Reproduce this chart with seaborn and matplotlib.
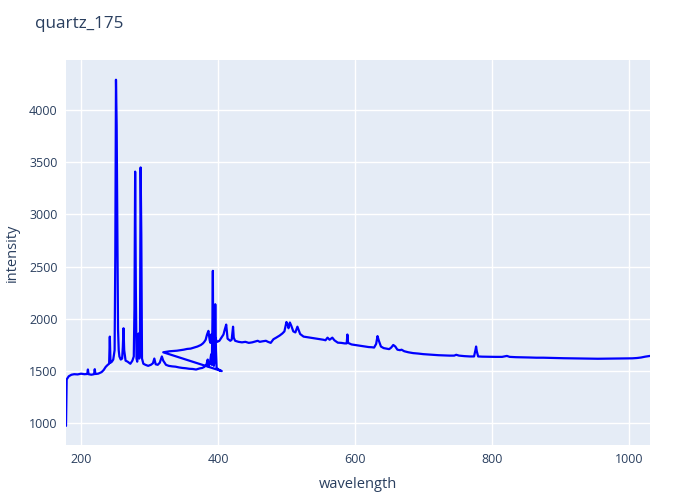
import pandas as pd
import matplotlib
matplotlib.use("Agg")
import matplotlib.pyplot as plt
import seaborn as sns

# spectrum, in drawing order (first channel, then second channel)
wl_first = [178, 179, 182, 186, 190, 195, 200, 205, 209, 210, 211, 215, 219, 220, 221, 225,
            230, 233, 236, 239, 241, 242, 243, 245, 247, 249, 250, 251, 252, 253, 254, 255,
            256, 258, 260, 261, 262, 263, 265, 268, 272, 275, 277, 278, 279, 280, 281, 282,
            283, 284, 285, 286, 287, 288, 289, 291, 294, 298, 302, 305, 307, 309, 312, 315,
            318, 320, 324, 328, 333, 338, 343, 348, 353, 358, 363, 368, 373, 377, 380, 383,
            385, 386, 388, 390, 391, 392, 392.5, 393, 394, 395, 396, 397, 398, 400, 403, 405.5]
int_first = [975, 1420, 1450, 1465, 1470, 1468, 1475, 1470, 1472, 1515, 1470, 1465, 1470, 1518, 1472, 1475,
             1490, 1510, 1540, 1560, 1570, 1830, 1580, 1590, 1610, 1700, 2600, 4290, 3850, 2830, 1900, 1700,
             1640, 1610, 1620, 1730, 1910, 1700, 1600, 1590, 1570, 1600, 1640, 2100, 3410, 2300, 1620, 1590,
             1700, 1860, 1620, 1700, 3450, 2800, 1620, 1570, 1560, 1550, 1560, 1575, 1620, 1565, 1560, 1580,
             1640, 1600, 1560, 1550, 1545, 1542, 1535, 1530, 1527, 1522, 1520, 1515, 1525, 1530, 1540, 1560,
             1610, 1545, 1570, 1660, 1560, 2000, 2460, 1700, 1550, 1600, 2140, 1700, 1530, 1520, 1505, 1500]

wl_second = [320, 325, 330, 335, 340, 345, 350, 355, 360, 365, 370, 375, 378, 380, 382, 384,
             386, 387, 388, 389, 390, 391, 393, 395, 397, 399, 402, 405, 408, 410, 412, 413,
             414, 416, 418, 420, 422, 423, 425, 430, 435, 440, 445, 450, 455, 458, 461, 465,
             470, 473, 477, 481, 485, 490, 494, 497, 500, 502, 503, 505, 507, 510, 513, 516,
             518, 520, 525, 530, 535, 540, 545, 550, 554, 557, 560, 563, 567, 570, 575, 580,
             585, 588, 589, 590, 595, 600, 605, 610, 615, 620, 625, 628, 631, 633, 635, 638,
             642, 646, 650, 653, 656, 659, 662, 666, 668, 672, 678, 685, 692, 700, 708, 715,
             722, 730, 738, 745, 748, 752, 760, 768, 774, 776, 777, 778, 780, 786, 795, 805,
             815, 822, 826, 835, 845, 855, 865, 875, 885, 895, 905, 915, 925, 935, 945, 955,
             965, 975, 985, 995, 1005, 1012, 1018, 1024, 1031]
int_second = [1680, 1685, 1690, 1692, 1695, 1700, 1705, 1712, 1715, 1725, 1735, 1750, 1765, 1780, 1800, 1850,
              1885, 1840, 1790, 1770, 1850, 1780, 1780, 1830, 1800, 1780, 1790, 1820, 1850, 1900, 1945, 1880,
              1810, 1800, 1790, 1800, 1925, 1820, 1790, 1780, 1775, 1780, 1770, 1775, 1785, 1790, 1780, 1785,
              1790, 1780, 1770, 1805, 1820, 1840, 1860, 1880, 1970, 1940, 1910, 1965, 1935, 1880, 1870, 1925,
              1890, 1855, 1830, 1825, 1820, 1815, 1810, 1805, 1800, 1795, 1820, 1800, 1820, 1795, 1772, 1770,
              1765, 1765, 1850, 1770, 1755, 1750, 1745, 1740, 1735, 1730, 1728, 1725, 1760, 1835, 1790, 1735,
              1720, 1715, 1710, 1725, 1750, 1735, 1705, 1700, 1705, 1690, 1680, 1672, 1668, 1662, 1658, 1655,
              1652, 1650, 1648, 1648, 1656, 1648, 1643, 1640, 1640, 1700, 1735, 1690, 1640, 1638, 1637, 1636,
              1636, 1645, 1636, 1633, 1632, 1630, 1628, 1628, 1626, 1625, 1623, 1622, 1621, 1620, 1619, 1618,
              1619, 1620, 1620, 1621, 1622, 1625, 1630, 1638, 1645]

x_ticks = [200, 400, 600, 800, 1000]
y_ticks = [1000, 1500, 2000, 2500, 3000, 3500, 4000]

TEXT = "#2a3f5f"


def main():
    df = pd.DataFrame({
        "wavelength": wl_first + wl_second,
        "intensity": int_first + int_second,
    })

    sns.set_theme(style="darkgrid", rc={
        "axes.facecolor": "#E5ECF6",
        "grid.color": "white",
        "grid.linewidth": 1.0,
    })
    plt.rcParams["font.family"] = ["Open Sans", "DejaVu Sans"]

    fig = plt.figure(figsize=(7, 5), dpi=100)
    ax = fig.add_axes([66 / 700, 55 / 500, 584 / 700, 385 / 500])
    sns.lineplot(data=df, x="wavelength", y="intensity", sort=False, estimator=None,
                 color="blue", linewidth=1.6, ax=ax)

    ax.set_xlim(178, 1031)
    ax.set_ylim(792, 4479)
    ax.set_xticks(x_ticks)
    ax.set_yticks(y_ticks)
    ax.tick_params(axis="both", length=0, labelsize=9, labelcolor=TEXT, pad=6)
    for s in ax.spines.values():
        s.set_visible(False)

    ax.set_xlabel("wavelength", fontsize=10.5, color=TEXT)
    ax.set_ylabel("intensity", fontsize=10.5, color=TEXT)
    ax.xaxis.set_label_coords(0.5, -0.083)
    ax.yaxis.set_label_coords(-0.079, 0.5)
    fig.text(35 / 700, 1 - 24 / 500, "quartz_175", fontsize=12.3, color=TEXT, va="center", ha="left")

    fig.savefig("out.png", dpi=100, facecolor="white")


if __name__ == "__main__":
    main()
